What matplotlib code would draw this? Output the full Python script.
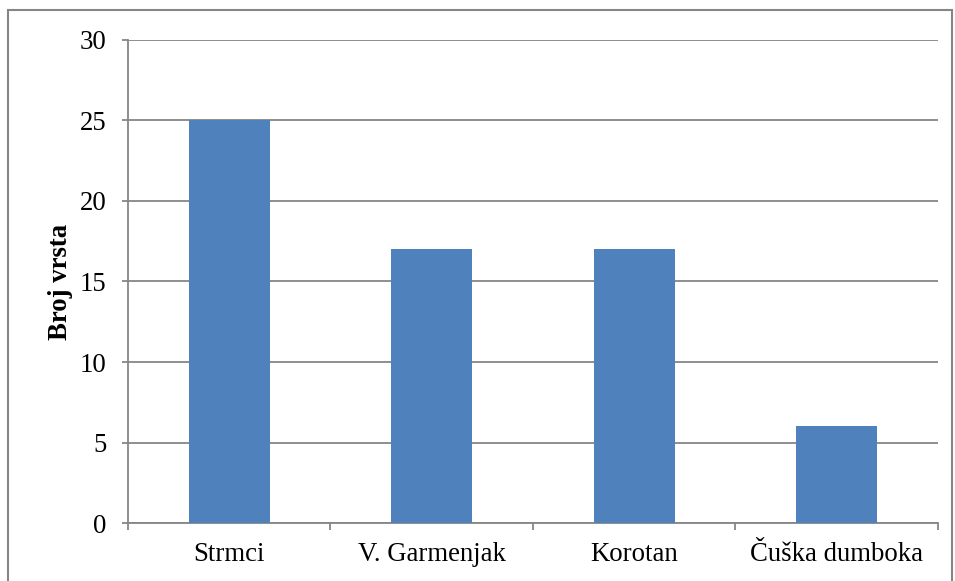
import numpy as np
import matplotlib.pyplot as plt
from matplotlib.patches import Rectangle

sites = ["Strmci", "V. Garmenjak", "Korotan", "Čuška dumboka"]
counts = [25, 17, 17, 6]

plt.rcParams['font.family'] = ['Liberation Serif', 'DejaVu Serif']
grey = '#868686'
fs = 19.3

fig = plt.figure(figsize=(9.55, 5.81), dpi=100)
ax = fig.add_axes([0.134, 0.0998, 0.848, 0.8314])

x = np.arange(len(sites))
ax.bar(x, counts, width=0.4, color='#4F81BD', zorder=3)

ax.set_xlim(-0.5, len(sites) - 0.5)
ax.set_ylim(0, 30)
ax.set_yticks(range(0, 31, 5))
ax.yaxis.grid(True, color=grey, lw=1.3, zorder=0)

ax.set_xticks(x)
ax.set_xticklabels(sites)
ax.set_xticks(np.arange(-0.5, len(sites), 1.0), minor=True)
ax.tick_params(axis='x', which='major', length=0, pad=14, labelsize=fs)
ax.tick_params(axis='x', which='minor', length=5, width=1.3, color=grey, direction='out')
ax.tick_params(axis='y', length=4.5, width=1.3, color=grey, pad=11, labelsize=fs)

for s in ['top', 'right']:
    ax.spines[s].set_visible(False)
for s in ['left', 'bottom']:
    ax.spines[s].set_color(grey)
    ax.spines[s].set_linewidth(1.3)

ax.set_ylabel("Broj vrsta", fontsize=fs, fontweight='bold', labelpad=5)

fig.patches.append(Rectangle((0.0084, -0.01), 0.9886, 0.993, transform=fig.transFigure,
                             fill=False, edgecolor=grey, lw=1.5))

fig.savefig("out.png", dpi=100)
